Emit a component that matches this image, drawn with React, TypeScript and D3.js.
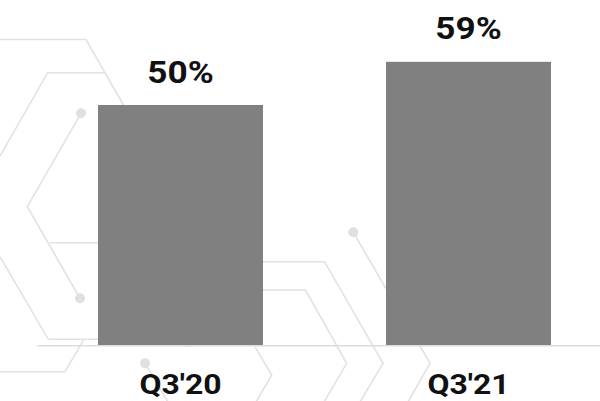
import React from "react";
import * as d3 from "d3";

const categories = ["Q3'20", "Q3'21"];
const values = [50, 59];
const valueLabels = ["50%", "59%"];

// decorative background (hexagon circuit lines)
const decoLines: [number, number][][] = [
  [[0, 39.5], [86, 39.5], [124, 106]],
  [[0, 156], [47.7, 72.7], [105, 72.7]],
  [[81, 113.3], [27.3, 206.7], [80, 298.3]],
  [[50, 242.7], [100, 242.7]],
  [[0, 256.7], [48.3, 339.3], [100, 339.3]],
  [[0, 371.7], [65, 371.7], [84, 339.3]],
  [[262, 261.7], [324.5, 261.7], [383, 363.3], [360, 402]],
  [[262, 290], [305.5, 290], [346.7, 363.3], [324, 402]],
  [[353.3, 232.3], [388, 292]],
  [[255, 346.7], [271.7, 375], [256, 402]],
  [[145, 363.3], [168, 402]],
  [[420, 346], [430, 363.3], [408, 402]],
];
const decoDots: [number, number][] = [
  [81, 113.3],
  [80, 298.3],
  [353.3, 232.3],
  [145, 363.3],
  [187, 342],
];

export default function App() {
  const W = 600;
  const H = 401;
  const x = d3
    .scaleBand<string>()
    .domain(categories)
    .range([36.5, 612.5])
    .paddingInner(0.4271)
    .paddingOuter(0.2135);
  const y = d3.scaleLinear().domain([0, 60]).range([345, 57]);
  const line = d3.line();
  const font = "Roboto, 'Noto Sans', sans-serif";

  return (
    <svg
      width={W}
      height={H}
      style={{ position: "absolute", left: 0, top: 0, background: "#fff" }}
    >
      <g fill="none" stroke="#e2e2e2" strokeWidth={1.6}>
        {decoLines.map((pts, i) => (
          <path key={i} d={line(pts) || ""} />
        ))}
      </g>
      <g fill="#e0e0e0">
        {decoDots.map((p, i) => (
          <circle key={i} cx={p[0]} cy={p[1]} r={5} />
        ))}
      </g>
      {categories.map((c, i) => (
        <rect
          key={c}
          x={x(c)}
          y={y(values[i])}
          width={x.bandwidth()}
          height={y(0) - y(values[i])}
          fill="#808080"
        />
      ))}
      <line x1={37} x2={600} y1={345.8} y2={345.8} stroke="#dcdcdc" strokeWidth={1.6} />
      {categories.map((c, i) => (
        <text
          key={"v" + c}
          transform={`translate(${(x(c) || 0) + x.bandwidth() / 2},${y(values[i]) - 22.5}) scale(1.1,1)`}
          textAnchor="middle"
          fontFamily={font}
          fontWeight={700}
          fontSize={32}
          fill="#111"
        >
          {valueLabels[i]}
        </text>
      ))}
      {categories.map((c) => (
        <text
          key={"c" + c}
          transform={`translate(${(x(c) || 0) + x.bandwidth() / 2},393.5) scale(1.12,1)`}
          textAnchor="middle"
          fontFamily={font}
          fontWeight={700}
          fontSize={28.5}
          fill="#111"
        >
          {c}
        </text>
      ))}
    </svg>
  );
}
